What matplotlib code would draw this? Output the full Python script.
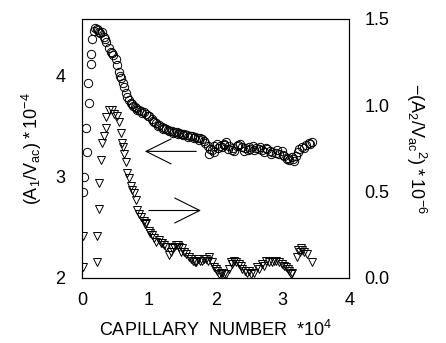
import matplotlib
matplotlib.use("Agg")
import matplotlib.pyplot as plt

plt.rcParams['font.family'] = ['Liberation Sans', 'DejaVu Sans']

# circles: (A1/Vac)*1e-4, left axis
cx = [0.02, 0.03, 0.07, 0.06, 0.10, 0.09, 0.13, 0.13, 0.15, 0.18, 0.20, 0.22, 0.24, 0.27,
      0.30, 0.33, 0.36, 0.40, 0.43, 0.47, 0.51, 0.53, 0.55, 0.58, 0.61, 0.63, 0.66, 0.70,
      0.73, 0.76, 0.79, 0.81, 0.85, 0.88, 0.92, 0.96, 1.00, 1.04, 1.08, 1.11, 1.15, 1.19,
      1.22, 1.26, 1.30, 1.34, 1.38, 1.42, 1.45, 1.49, 1.53, 1.57, 1.61, 1.65, 1.69, 1.73,
      1.77, 1.80, 1.84, 1.88, 1.91, 1.95, 1.98, 2.02, 2.06, 2.10, 2.13, 2.16, 2.20, 2.24,
      2.28, 2.32, 2.36, 2.40, 2.44, 2.48, 2.52, 2.56, 2.60, 2.65, 2.69, 2.73, 2.77, 2.81,
      2.85, 2.90, 2.95, 2.99, 3.03, 3.07, 3.10, 3.14, 3.18, 3.21, 3.25, 3.30, 3.35, 3.40, 3.45]
cy = [2.85, 3.00, 3.24, 3.48, 3.73, 3.93, 4.11, 4.21, 4.36, 4.44, 4.47, 4.46, 4.45, 4.42,
      4.43, 4.38, 4.33, 4.27, 4.23, 4.20, 4.16, 4.10, 4.03, 3.98, 3.93, 3.89, 3.83, 3.76,
      3.73, 3.70, 3.69, 3.68, 3.66, 3.65, 3.64, 3.62, 3.60, 3.57, 3.54, 3.53, 3.51, 3.49,
      3.48, 3.47, 3.45, 3.45, 3.44, 3.44, 3.43, 3.42, 3.42, 3.41, 3.40, 3.40, 3.39, 3.38,
      3.38, 3.37, 3.33, 3.30, 3.27, 3.26, 3.30, 3.32, 3.30, 3.29, 3.32, 3.34, 3.30, 3.26,
      3.25, 3.30, 3.32, 3.29, 3.28, 3.26, 3.27, 3.30, 3.28, 3.27, 3.26, 3.24, 3.27, 3.25,
      3.24, 3.23, 3.22, 3.25, 3.20, 3.17, 3.16, 3.19, 3.15, 3.20, 3.27, 3.29, 3.31, 3.33, 3.34]
# second pass of circles (overlapping repeat measurements)
cx2 = [0.25, 0.34, 0.45, 0.57, 0.68, 0.75, 0.83, 0.90, 0.98, 1.06, 1.13, 1.21, 1.28, 1.36,
       1.44, 1.51, 1.59, 1.67, 1.75, 1.82, 1.90, 1.97, 2.04, 2.12, 2.19, 2.26, 2.34, 2.42,
       2.50, 2.58, 2.67, 2.75, 2.83, 2.92, 3.01, 3.09, 3.16, 3.23, 3.32, 3.42]
cy2 = [4.43, 4.36, 4.22, 4.00, 3.79, 3.72, 3.66, 3.63, 3.60, 3.55, 3.50, 3.47, 3.46, 3.43,
       3.42, 3.41, 3.39, 3.38, 3.36, 3.35, 3.22, 3.24, 3.28, 3.31, 3.27, 3.28, 3.31, 3.25,
       3.29, 3.26, 3.29, 3.28, 3.22, 3.26, 3.21, 3.18, 3.17, 3.24, 3.28, 3.32]

# triangles: -(A2/Vac^2)*1e-6, right axis
tx = [0.01, 0.01, 0.22, 0.22, 0.25, 0.25, 0.28, 0.30, 0.33, 0.36, 0.36, 0.40, 0.45, 0.52,
      0.55, 0.58, 0.60, 0.63, 0.66, 0.67, 0.70, 0.73, 0.78, 0.81, 0.82, 0.88, 0.92, 0.96,
      1.00, 1.04, 1.08, 1.15, 1.20, 1.26, 1.30, 1.35, 1.41, 1.45, 1.50, 1.55, 1.60, 1.66,
      1.71, 1.76, 1.80, 1.85, 1.90, 1.94, 1.98, 2.02, 2.05, 2.10, 2.16, 2.20, 2.23, 2.28,
      2.35, 2.40, 2.47, 2.53, 2.58, 2.65, 2.72, 2.80, 2.87, 2.95, 3.00, 3.06, 3.10, 3.15,
      3.22, 3.26, 3.30, 3.37, 3.45]
ty = [0.06, 0.24, 0.09, 0.24, 0.40, 0.55, 0.68, 0.78, 0.82, 0.87, 0.93, 0.97, 0.97, 0.94,
      0.90, 0.84, 0.78, 0.72, 0.67, 0.61, 0.58, 0.53, 0.49, 0.45, 0.39, 0.35, 0.33, 0.32,
      0.27, 0.25, 0.23, 0.22, 0.20, 0.18, 0.13, 0.17, 0.19, 0.18, 0.17, 0.14, 0.12, 0.10,
      0.09, 0.10, 0.10, 0.11, 0.12, 0.09, 0.06, 0.04, 0.02, 0.03, 0.02, 0.05, 0.09, 0.10,
      0.08, 0.05, 0.03, 0.02, 0.03, 0.05, 0.07, 0.09, 0.10, 0.09, 0.08, 0.06, 0.04, 0.03,
      0.12, 0.15, 0.16, 0.14, 0.09]
tx2 = [0.48, 0.62, 0.75, 0.85, 0.94, 1.02, 1.11, 1.18, 1.23, 1.33, 1.38, 1.43, 1.48, 1.53,
       1.63, 1.69, 1.74, 1.83, 1.88, 2.00, 2.08, 2.13, 2.25, 2.31, 2.38, 2.44, 2.50, 2.62,
       2.69, 2.76, 2.84, 2.91, 3.03, 3.08, 3.13, 3.24, 3.28, 3.33]
ty2 = [0.95, 0.76, 0.51, 0.37, 0.31, 0.26, 0.21, 0.20, 0.19, 0.15, 0.18, 0.19, 0.15, 0.15,
       0.11, 0.09, 0.11, 0.11, 0.10, 0.05, 0.03, 0.02, 0.08, 0.09, 0.07, 0.04, 0.04, 0.06,
       0.08, 0.10, 0.09, 0.10, 0.07, 0.05, 0.02, 0.16, 0.17, 0.15]

fig = plt.figure(figsize=(4.46, 3.43), dpi=100)
ax = fig.add_axes([0.184, 0.19, 0.599, 0.755])
ax2 = ax.twinx()

ax.plot(cx, cy, 'o', mfc='none', mec='black', ms=6, mew=0.7)
ax.plot(cx2, cy2, 'o', mfc='none', mec='black', ms=6, mew=0.7)
ax2.plot(tx, ty, 'v', mfc='none', mec='black', ms=5.5, mew=0.7)
ax2.plot(tx2, ty2, 'v', mfc='none', mec='black', ms=5.5, mew=0.7)

ax.set_xlim(0, 4)
ax.set_ylim(2, 4.56)
ax2.set_ylim(0, 1.5)
ax.set_xticks([0, 1, 2, 3, 4])
ax.set_yticks([2, 3, 4])
ax2.set_yticks([0, 0.5, 1.0, 1.5])
ax2.set_yticklabels(['0.0', '0.5', '1.0', '1.5'])
ax.tick_params(axis='x', length=0, labelsize=13, pad=10)
ax.tick_params(axis='y', length=0, labelsize=13, pad=12)
ax2.tick_params(length=0, labelsize=13, pad=11)
for s in ax.spines.values():
    s.set_linewidth(0.8)
for s in ax2.spines.values():
    s.set_linewidth(0.8)

# arrows pointing to the axis each series belongs to
arrow = dict(arrowstyle='->, head_length=0.9, head_width=0.45', lw=0.8, color='black',
             mutation_scale=20, shrinkA=0, shrinkB=0)
ax.annotate('', xy=(0.94, 3.25), xytext=(1.71, 3.25), arrowprops=arrow)
ax2.annotate('', xy=(1.78, 0.39), xytext=(1.00, 0.39), arrowprops=arrow)

ax.set_xlabel('CAPILLARY  NUMBER  *10$^\\mathregular{4}$', fontsize=13, labelpad=8)
ax.set_ylabel('$\\mathregular{(A_1/V_{ac})*10^{-4}}$', fontsize=13, labelpad=8)
ax2.set_ylabel('$\\mathregular{-(A_2/V_{ac}{}^2)*10^{-6}}$', fontsize=13, rotation=270,
               labelpad=28)

fig.savefig('out.png', dpi=100)
